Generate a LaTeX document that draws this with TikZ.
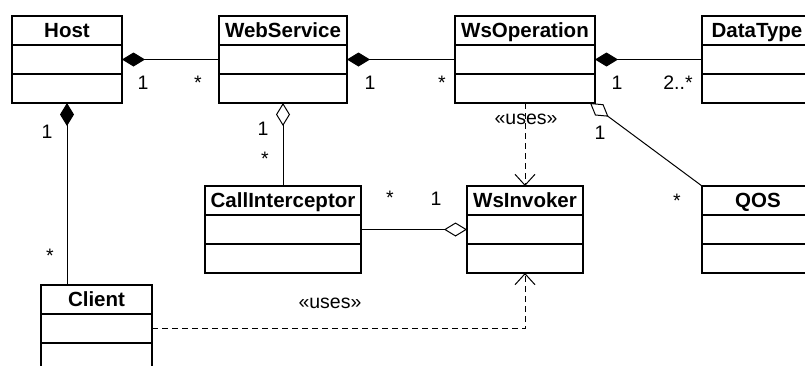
\documentclass[tikz,border=0pt]{standalone}
\usepackage{fontspec}
\setmainfont{Liberation Sans}
\usetikzlibrary{positioning,calc,arrows.meta}

\begin{document}
\begin{tikzpicture}[x=1pt, y=-1pt,
    every node/.style={font=\fontsize{19.5}{22}\selectfont},
    classhead/.style={draw, line width=1.8pt, rectangle, outer sep=0pt, inner sep=0pt, minimum height=29pt, text height=14pt, text depth=0pt, font=\fontsize{20.5}{22}\selectfont\bfseries},
    classpart/.style={draw, line width=1.8pt, rectangle, outer sep=0pt, inner sep=0pt, minimum height=29pt},
    mult/.style={anchor=base},
    comp/.style={line width=1pt, {Diamond[length=23pt,width=14pt]}-},
    aggr/.style={line width=1pt, {Diamond[open,length=23pt,width=14pt]}-},
    uses/.style={line width=1pt, dash pattern=on 6pt off 4pt, -{Straight Barb[length=11pt,width=20pt]}}]
    \useasboundingbox (0,0) rectangle (805,365);

    % Top row classes
    \node[classhead, line width=2.8pt, minimum width=110pt] (host) at (67,30.5) {Host};
    \node[classpart, line width=2.8pt, minimum width=110pt, below=0pt of host] (host-a) {};
    \node[classpart, line width=2.8pt, minimum width=110pt, below=0pt of host-a] (host-b) {};

    \node[classhead, minimum width=128pt] (websvc) at (283,30.5) {WebService};
    \node[classpart, minimum width=128pt, below=0pt of websvc] (websvc-a) {};
    \node[classpart, minimum width=128pt, below=0pt of websvc-a] (websvc-b) {};

    \node[classhead, minimum width=140pt] (wsop) at (525,30.5) {WsOperation};
    \node[classpart, minimum width=140pt, below=0pt of wsop] (wsop-a) {};
    \node[classpart, minimum width=140pt, below=0pt of wsop-a] (wsop-b) {};

    \node[classhead, minimum width=110pt] (datatype) at (757,30.5) {DataType};
    \node[classpart, minimum width=110pt, below=0pt of datatype] (datatype-a) {};
    \node[classpart, minimum width=110pt, below=0pt of datatype-a] (datatype-b) {};

    % Middle row classes
    \node[classhead, minimum width=156pt] (callint) at (283,200.5) {CallInterceptor};
    \node[classpart, minimum width=156pt, below=0pt of callint] (callint-a) {};
    \node[classpart, minimum width=156pt, below=0pt of callint-a] (callint-b) {};

    \node[classhead, minimum width=116pt] (wsinv) at (525,200.5) {WsInvoker};
    \node[classpart, minimum width=116pt, below=0pt of wsinv] (wsinv-a) {};
    \node[classpart, minimum width=116pt, below=0pt of wsinv-a] (wsinv-b) {};

    \node[classhead, minimum width=112pt] (qos) at (758,200.5) {QOS};
    \node[classpart, minimum width=112pt, below=0pt of qos] (qos-a) {};
    \node[classpart, minimum width=112pt, below=0pt of qos-a] (qos-b) {};

    % Client
    \node[classhead, minimum width=111pt] (client) at (96.5,299.5) {Client};
    \node[classpart, minimum width=111pt, below=0pt of client] (client-a) {};
    \node[classpart, minimum width=111pt, below=0pt of client-a] (client-b) {};

    % Compositions
    \draw[comp] (host-a.east) -- (websvc-a.west);
    \draw[comp] (websvc-a.east) -- (wsop-a.west);
    \draw[comp] (wsop-a.east) -- (datatype-a.west);
    \draw[comp] (host-b.south) -- (host-b.south |- client.north);

    % Aggregations
    \draw[aggr] (websvc-b.south) -- (callint.north);
    \draw[aggr] ($(wsop-b.south east)+(-5,0)$) -- (qos.north west);
    \draw[aggr] (wsinv-a.west) -- (callint-a.east);

    % Dependencies
    \draw[uses] (wsop-b.south) -- (wsinv.north);
    \draw[uses] (client-a.east) -| (wsinv-b.south);

    % Multiplicities
    \node[mult] (m1) at (143,89) {1};
    \node[mult] (m2) at (198,89) {*};
    \node[mult] (m3) at (370,89) {1};
    \node[mult] (m4) at (442,89) {*};
    \node[mult] (m5) at (617,89) {1};
    \node[mult] (m6) at (678,89) {2..*};
    \node[mult] (m7) at (47,138) {1};
    \node[mult] (m8) at (50,262) {*};
    \node[mult] (m9) at (263,135) {1};
    \node[mult] (m10) at (265,165) {*};
    \node[mult] (m11) at (390,204) {*};
    \node[mult] (m12) at (436,205) {1};
    \node[mult] (m13) at (600,139) {1};
    \node[mult] (m14) at (677,207) {*};

    % Stereotypes
    \node[mult] (u1) at (526,124) {«uses»};
    \node[mult] (u2) at (330,308) {«uses»};

\end{tikzpicture}
\end{document}
